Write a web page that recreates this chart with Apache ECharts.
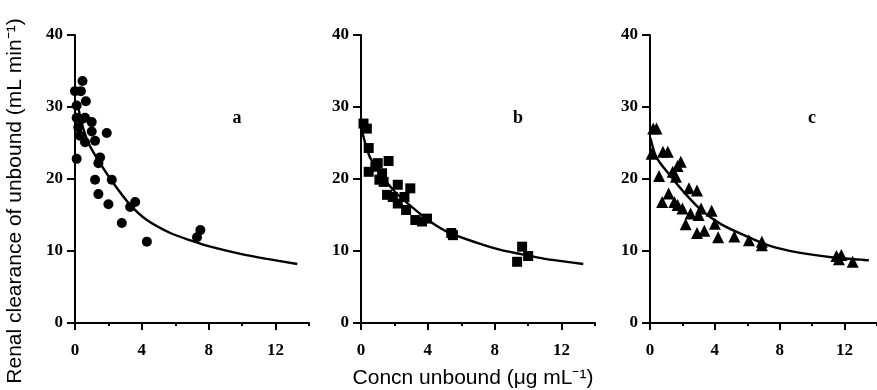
<!DOCTYPE html>
<html>
<head>
<meta charset="utf-8">
<script src="https://cdn.jsdelivr.net/npm/echarts@6/dist/echarts.min.js"></script>
<style>
  html, body { margin: 0; padding: 0; background: #fff; }
  #chart { width: 877px; height: 390px; }
</style>
</head>
<body>
<div id="chart"></div>
<script>
// observed points [concn unbound, renal clearance]
const aPts = [
  [0.0, 32.2], [0.35, 32.2], [0.45, 33.6], [0.65, 30.8], [0.1, 30.2], [0.1, 28.5],
  [0.4, 28.3], [0.6, 28.5], [1.0, 27.9], [0.2, 27.2], [1.0, 26.6], [1.9, 26.4],
  [0.3, 26.0], [0.6, 25.1], [1.2, 25.3], [0.1, 22.8], [1.5, 23.0], [1.4, 22.2],
  [1.2, 19.9], [2.2, 19.9], [1.4, 17.9], [2.0, 16.5], [3.6, 16.8], [3.3, 16.1],
  [2.8, 13.9], [4.3, 11.3], [7.5, 12.9], [7.3, 11.9]
];
const bPts = [
  [0.15, 27.7], [0.35, 27.0], [0.46, 24.3], [0.46, 21.0], [0.86, 21.7], [1.0, 22.2],
  [1.65, 22.5], [1.26, 20.8], [1.1, 19.9], [1.35, 19.6], [2.2, 19.2], [2.95, 18.7],
  [1.56, 17.8], [1.9, 17.5], [2.2, 16.6], [2.6, 17.5], [2.7, 15.7], [3.25, 14.3],
  [3.65, 14.1], [3.95, 14.5], [5.4, 12.5], [5.5, 12.2], [9.64, 10.6], [10.0, 9.3],
  [9.34, 8.5]
];
const cPts = [
  [0.2, 27.0], [0.4, 27.0], [0.8, 23.8], [1.1, 23.8], [0.1, 23.5], [1.9, 22.4],
  [1.7, 21.8], [0.56, 20.4], [1.4, 21.0], [1.6, 20.3], [2.4, 18.7], [2.9, 18.4],
  [1.15, 18.0], [0.75, 16.8], [1.5, 16.8], [1.7, 16.4], [2.0, 15.9], [3.15, 15.9],
  [3.8, 15.6], [2.5, 15.2], [3.0, 15.0], [2.2, 13.7], [2.9, 12.5], [3.35, 12.8],
  [4.0, 13.8], [4.2, 11.9], [5.2, 12.0], [6.1, 11.5], [6.9, 11.3], [6.9, 10.8],
  [11.5, 9.3], [11.8, 9.45], [11.65, 8.85], [12.5, 8.5]
];
// fitted curves
const aFit = [
  [0.15, 30.5], [0.4, 27.8], [0.8, 25.0], [1.5, 22.2], [2.3, 19.4], [3.3, 16.4],
  [4.3, 14.3], [5.7, 12.5], [7.0, 11.4], [8.1, 10.6], [9.9, 9.6], [11.5, 8.9], [13.3, 8.2]
];
const bFit = [
  [0.05, 26.8], [0.5, 23.2], [1.2, 20.6], [2.0, 18.3], [3.0, 16.2], [4.2, 14.0],
  [5.4, 12.4], [7.0, 11.1], [8.3, 10.2], [9.5, 9.6], [11.0, 8.9], [12.0, 8.6], [13.3, 8.2]
];
const cFit = [
  [0.03, 25.7], [0.4, 23.0], [1.2, 20.6], [2.2, 17.9], [3.2, 15.6], [4.4, 13.7],
  [6.0, 12.0], [7.4, 10.7], [9.1, 9.8], [11.3, 9.1], [13.0, 8.8], [13.5, 8.7]
];
const xMajor = [0, 4, 8, 12];
const xMinor = [2, 6, 10, 14];
const panelLabels = ['a', 'b', 'c'];

const myChart = echarts.init(document.getElementById('chart'));

const tickFont = {
  color: '#000',
  fontFamily: 'Liberation Serif',
  fontWeight: 'bold',
  fontSize: 17
};
const lefts = [75, 361, 650];
const labelPos = [[237, 118], [518, 118], [812, 118]];

const grids = [];
const xAxes = [];
const yAxes = [];
lefts.forEach((l, i) => {
  grids.push({left: l, top: 35, width: 234, height: 288});
  xAxes.push({
    type: 'value', gridIndex: i, min: 0, max: 14, position: 'bottom',
    axisLine: {lineStyle: {color: '#000', width: 2}},
    axisTick: {customValues: xMajor, length: 7, lineStyle: {color: '#000', width: 2}},
    axisLabel: Object.assign({customValues: xMajor, margin: 19}, tickFont),
    splitLine: {show: false}
  });
  xAxes.push({
    type: 'value', gridIndex: i, min: 0, max: 14, position: 'bottom',
    axisLine: {show: false},
    axisTick: {customValues: xMinor, length: 3, lineStyle: {color: '#000', width: 2}},
    axisLabel: {show: false},
    splitLine: {show: false}
  });
  yAxes.push({
    type: 'value', gridIndex: i, min: 0, max: 40, interval: 10,
    axisLine: {show: true, lineStyle: {color: '#000', width: 2}},
    axisTick: {show: true, length: 8, lineStyle: {color: '#000', width: 2}},
    axisLabel: Object.assign({margin: 12}, tickFont),
    splitLine: {show: false}
  });
});

const pts = [aPts, bPts, cPts];
const fits = [aFit, bFit, cFit];
const symbols = ['circle', 'rect', 'triangle'];
const sizes = [10, 10, 12];
const series = [];
pts.forEach((p, i) => {
  series.push({
    type: 'scatter', xAxisIndex: i * 2, yAxisIndex: i,
    data: p, symbol: symbols[i], symbolSize: sizes[i],
    itemStyle: {color: '#000', opacity: 1}
  });
  series.push({
    type: 'line', xAxisIndex: i * 2, yAxisIndex: i,
    data: fits[i], smooth: 0.3, showSymbol: false,
    lineStyle: {color: '#000', width: 2.4}
  });
});

const graphics = panelLabels.map((t, i) => ({
  type: 'text', x: labelPos[i][0], y: labelPos[i][1],
  style: {
    text: t, fill: '#000', font: 'bold 18px "Liberation Serif"',
    textAlign: 'center', textVerticalAlign: 'middle'
  }
}));
graphics.push({
  type: 'text', x: 15, y: 201, rotation: Math.PI / 2,
  style: {
    text: 'Renal clearance of unbound (mL min\u207B\u00B9)', fill: '#000',
    font: '21px "Liberation Sans"', textAlign: 'center', textVerticalAlign: 'middle'
  }
});
graphics.push({
  type: 'text', x: 473, y: 378,
  style: {
    text: 'Concn unbound (\u03BCg mL\u207B\u00B9)', fill: '#000',
    font: '21px "Liberation Sans"', textAlign: 'center', textVerticalAlign: 'middle'
  }
});

myChart.setOption({
  animation: false,
  backgroundColor: '#fff',
  grid: grids,
  xAxis: xAxes,
  yAxis: yAxes,
  series: series,
  graphic: graphics
});
</script>
</body>
</html>
